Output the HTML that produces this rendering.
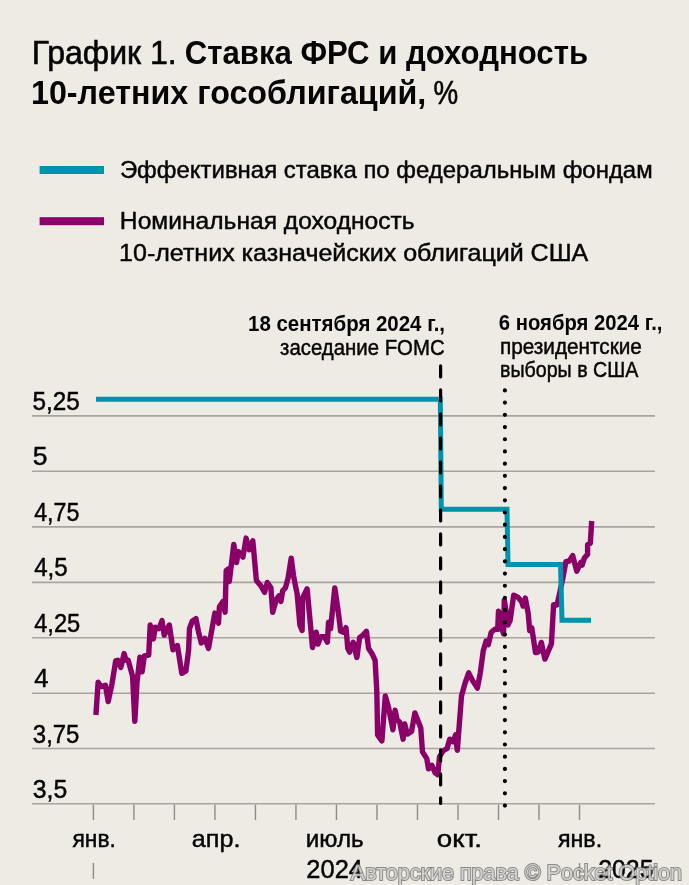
<!DOCTYPE html>
<html><head><meta charset="utf-8">
<style>
html,body{margin:0;padding:0;background:#EEEAE4;}
svg{display:block;will-change:transform}
text{font-family:"Liberation Sans",sans-serif;fill:#050505;white-space:pre;}
</style></head><body>
<svg width="689" height="885" viewBox="0 0 689 885">
<rect width="689" height="885" fill="#EEEAE4"/>
<text x="31.63" y="64.1" font-size="33.5" textLength="145.05" lengthAdjust="spacingAndGlyphs" style="stroke:#050505;stroke-width:0.6px">График 1.</text>
<text x="184.77" y="64.1" font-size="33.5" font-weight="bold" textLength="403.27" lengthAdjust="spacingAndGlyphs">Ставка ФРС и доходность</text>
<text x="30.97" y="103.6" font-size="33.5" font-weight="bold" textLength="395.32" lengthAdjust="spacingAndGlyphs">10-летних гособлигаций,</text>
<text x="433.47" y="103.6" font-size="33.5" textLength="24.69" lengthAdjust="spacingAndGlyphs" style="stroke:#050505;stroke-width:0.6px">%</text>

<rect x="39.6" y="166" width="64.4" height="8" fill="#0093AB"/>
<rect x="39.6" y="217.2" width="64.4" height="8" fill="#8A0068"/>
<text x="119.92" y="177.8" font-size="24.5" textLength="532.73" lengthAdjust="spacingAndGlyphs" style="stroke:#050505;stroke-width:0.45px">Эффективная ставка по федеральным фондам</text>
<text x="119.89" y="228.7" font-size="24.5" textLength="294.81" lengthAdjust="spacingAndGlyphs" style="stroke:#050505;stroke-width:0.45px">Номинальная доходность</text>
<text x="119.06" y="260.6" font-size="24.5" textLength="469.26" lengthAdjust="spacingAndGlyphs" style="stroke:#050505;stroke-width:0.45px">10-летних казначейских облигаций США</text>

<text x="248.05" y="330.8" font-size="21.5" font-weight="bold" textLength="196.98" lengthAdjust="spacingAndGlyphs">18 сентября 2024 г.,</text>
<text x="280.05" y="354.5" font-size="21.5" textLength="164.58" lengthAdjust="spacingAndGlyphs" style="stroke:#050505;stroke-width:0.45px">заседание FOMC</text>
<text x="498.86" y="330" font-size="21.5" font-weight="bold" textLength="163.57" lengthAdjust="spacingAndGlyphs">6 ноября 2024 г.,</text>
<text x="499.93" y="353.8" font-size="21.5" textLength="141.99" lengthAdjust="spacingAndGlyphs" style="stroke:#050505;stroke-width:0.45px">президентские</text>
<text x="499.99" y="377.3" font-size="21.5" textLength="138.36" lengthAdjust="spacingAndGlyphs" style="stroke:#050505;stroke-width:0.45px">выборы в США</text>

<line x1="32" y1="415.85" x2="655" y2="415.85" stroke="#A9A59E" stroke-width="1.6"/>
<text x="32.53" y="409.85" font-size="25" textLength="47.33" lengthAdjust="spacingAndGlyphs" style="stroke:#050505;stroke-width:0.45px">5,25</text>
<line x1="32" y1="471.30" x2="655" y2="471.30" stroke="#A9A59E" stroke-width="1.6"/>
<text x="32.74" y="465.3" font-size="25" textLength="14.72" lengthAdjust="spacingAndGlyphs" style="stroke:#050505;stroke-width:0.45px">5</text>
<line x1="32" y1="526.90" x2="655" y2="526.90" stroke="#A9A59E" stroke-width="1.6"/>
<text x="34.2" y="520.9" font-size="25" textLength="45.22" lengthAdjust="spacingAndGlyphs" style="stroke:#050505;stroke-width:0.45px">4,75</text>
<line x1="32" y1="582.40" x2="655" y2="582.40" stroke="#A9A59E" stroke-width="1.6"/>
<text x="34.2" y="576.4" font-size="25" textLength="33.54" lengthAdjust="spacingAndGlyphs" style="stroke:#050505;stroke-width:0.45px">4,5</text>
<line x1="32" y1="637.80" x2="655" y2="637.80" stroke="#A9A59E" stroke-width="1.6"/>
<text x="34.2" y="631.8" font-size="25" textLength="46.04" lengthAdjust="spacingAndGlyphs" style="stroke:#050505;stroke-width:0.45px">4,25</text>
<line x1="32" y1="693.20" x2="655" y2="693.20" stroke="#A9A59E" stroke-width="1.6"/>
<text x="34.2" y="687.2" font-size="25" textLength="14.23" lengthAdjust="spacingAndGlyphs" style="stroke:#050505;stroke-width:0.45px">4</text>
<line x1="32" y1="748.50" x2="655" y2="748.50" stroke="#A9A59E" stroke-width="1.6"/>
<text x="32.84" y="742.5" font-size="25" textLength="46.6" lengthAdjust="spacingAndGlyphs" style="stroke:#050505;stroke-width:0.45px">3,75</text>
<line x1="32" y1="803.70" x2="655" y2="803.70" stroke="#A9A59E" stroke-width="1.6"/>
<text x="32.81" y="797.7" font-size="25" textLength="34.45" lengthAdjust="spacingAndGlyphs" style="stroke:#050505;stroke-width:0.45px">3,5</text>

<line x1="93.40" y1="804.5" x2="93.40" y2="820" stroke="#8F8B85" stroke-width="1.4"/>
<line x1="133.91" y1="804.5" x2="133.91" y2="820" stroke="#8F8B85" stroke-width="1.4"/>
<line x1="174.42" y1="804.5" x2="174.42" y2="820" stroke="#8F8B85" stroke-width="1.4"/>
<line x1="214.93" y1="804.5" x2="214.93" y2="820" stroke="#8F8B85" stroke-width="1.4"/>
<line x1="255.44" y1="804.5" x2="255.44" y2="820" stroke="#8F8B85" stroke-width="1.4"/>
<line x1="295.95" y1="804.5" x2="295.95" y2="820" stroke="#8F8B85" stroke-width="1.4"/>
<line x1="336.46" y1="804.5" x2="336.46" y2="820" stroke="#8F8B85" stroke-width="1.4"/>
<line x1="376.97" y1="804.5" x2="376.97" y2="820" stroke="#8F8B85" stroke-width="1.4"/>
<line x1="417.48" y1="804.5" x2="417.48" y2="820" stroke="#8F8B85" stroke-width="1.4"/>
<line x1="457.99" y1="804.5" x2="457.99" y2="820" stroke="#8F8B85" stroke-width="1.4"/>
<line x1="498.50" y1="804.5" x2="498.50" y2="820" stroke="#8F8B85" stroke-width="1.4"/>
<line x1="539.01" y1="804.5" x2="539.01" y2="820" stroke="#8F8B85" stroke-width="1.4"/>
<line x1="579.52" y1="804.5" x2="579.52" y2="820" stroke="#8F8B85" stroke-width="1.4"/>
<text x="72.4" y="846.8" font-size="24" textLength="43.49" lengthAdjust="spacingAndGlyphs" style="stroke:#050505;stroke-width:0.45px">янв.</text>
<text x="191.85" y="846.8" font-size="24" textLength="48.52" lengthAdjust="spacingAndGlyphs" style="stroke:#050505;stroke-width:0.45px">апр.</text>
<text x="305.78" y="846.8" font-size="24" textLength="57.91" lengthAdjust="spacingAndGlyphs" style="stroke:#050505;stroke-width:0.45px">июль</text>
<text x="436.85" y="846.8" font-size="24" textLength="45.1" lengthAdjust="spacingAndGlyphs" style="stroke:#050505;stroke-width:0.45px">окт.</text>
<text x="557.9" y="846.8" font-size="24" textLength="44.22" lengthAdjust="spacingAndGlyphs" style="stroke:#050505;stroke-width:0.45px">янв.</text>
<line x1="93.40" y1="863" x2="93.40" y2="879" stroke="#8F8B85" stroke-width="1.4"/>
<line x1="579.50" y1="863" x2="579.50" y2="879" stroke="#8F8B85" stroke-width="1.4"/>

<text x="306.38" y="878.3" font-size="25" textLength="56.55" lengthAdjust="spacingAndGlyphs" style="stroke:#050505;stroke-width:0.45px">2024</text>
<text x="598.21" y="877.7" font-size="25" textLength="55.32" lengthAdjust="spacingAndGlyphs" style="stroke:#050505;stroke-width:0.45px">2025</text>

<path d="M95.9,715 L98.1,682.2 L101,686.6 L105.4,685.2 L108.2,701.5 L112,683.7 L115.7,660.9 L117.9,660.2 L120.8,667.5 L124.1,653.6 L126,660.2 L128.2,660.2 L132.6,676.4 L134.8,721.4 L137,682.2 L139.9,657.3 L142.1,671.9 L144.3,655.8 L148.7,655.1 L150.2,625 L153.4,638.9 L155.3,627.2 L159,628.6 L162,620.6 L164.2,635.2 L169.3,625 L173,649.9 L177.4,645.5 L181.8,673.4 L185.9,671 L188.6,650.2 L189.5,628.5 L192.2,621.3 L195.9,618.6 L198.6,632.1 L201.3,643 L204.9,638.4 L208.5,648.4 L214.8,613.1 L218.5,623.1 L219.4,606.8 L223,601.4 L225.1,612.2 L226.2,570.6 L228.4,568.8 L229.3,581.5 L233.8,544.4 L236.5,562.5 L238.3,551.6 L242.9,557.1 L246.1,538.1 L249.2,549.8 L252.8,540.8 L256.4,580.6 L261,586 L264.6,592.3 L267.3,582.4 L270.9,587.8 L272.7,612.2 L276.3,599.6 L279,595.9 L280.9,601.5 L282.7,590.6 L285.4,587.9 L288.1,578 L291.2,558.1 L293.6,576.2 L297.2,594.2 L299.9,625 L302.1,630.4 L302.6,597.9 L307.1,588.8 L309.8,617.8 L312.5,647.6 L316.2,632.2 L318,644 L320.7,636.7 L324.3,636.7 L327.4,642.2 L328.5,622.3 L330.6,628.6 L334.8,587.9 L338.8,615.9 L340.6,631.3 L343.3,632.2 L346,627.7 L347.8,648.5 L349.6,652.1 L353.2,642.2 L356.9,657.5 L359.6,637.6 L363.2,634.9 L366.4,631.3 L368.6,648.5 L372.2,653.9 L375.1,660.3 L376.8,690.8 L377.6,734.9 L381.9,740.8 L385.3,695.9 L388.6,707.8 L392.9,729.8 L395.1,710.3 L397.1,719.7 L399.7,722.2 L403.1,739.2 L404.7,723.9 L407.3,734.1 L411.5,731.5 L414.9,712.9 L420.8,728.1 L422.5,751.9 L426.8,758.6 L428.5,768.8 L431.9,765.4 L435.3,773.1 L437.8,774.7 L439.5,756.9 L442.9,751 L447.1,748.5 L449.7,739.2 L453.1,741.7 L455.6,734.9 L457.3,750.2 L461.5,695.9 L465.1,683 L468.7,672.9 L472.3,680.1 L477.4,688.1 L480.3,672.9 L483.2,651.1 L486.1,641 L488.3,644.6 L491.2,632.3 L494.8,629.3 L497.7,629.3 L498.5,611.2 L501.4,626.4 L503.5,633.7 L504.3,600.3 L506.4,613.4 L507.9,625 L510.1,620.6 L513.7,595.2 L518.1,597.4 L521.7,601.8 L523.1,606.1 L525.3,598.1 L528.2,613.4 L529.7,630.8 L531.8,627.9 L535.5,652.6 L538.4,651.8 L541.3,642.4 L544.9,659.1 L551.4,643.9 L553.6,604.7 L557,605 L562.5,580 L565.9,561.7 L569.3,561 L572.7,555.6 L576.8,571.2 L580.8,562.4 L582.2,565.1 L584.2,558.3 L587.6,554.2 L587.6,544.7 L590.3,543.4 L591.7,521" fill="none" stroke="#8A0068" stroke-width="5.4" stroke-linejoin="round" stroke-linecap="butt"/>
<path d="M96 399.2 L440.3 399.2 L441.3 509.3 L507 509.3 L508 564.4 L560.5 564.4 L562 620.3 L591 620.3" fill="none" stroke="#0093AB" stroke-width="5" stroke-linejoin="miter"/>
<line x1="440.6" y1="365.9" x2="440.6" y2="803.5" stroke="#000" stroke-width="3.2" stroke-dasharray="11 13" stroke-linecap="round"/>
<line x1="504.9" y1="390.4" x2="504.9" y2="806" stroke="#000" stroke-width="4.2" stroke-dasharray="0 12.21" stroke-linecap="round"/>
<text x="350.8" y="880.4" font-size="22.5" textLength="331.18" lengthAdjust="spacingAndGlyphs" style="fill:rgba(255,255,255,0.6);stroke:rgba(100,100,100,0.7);stroke-width:2px;paint-order:stroke">Авторские права © Pocket Option</text>

</svg>
</body></html>
